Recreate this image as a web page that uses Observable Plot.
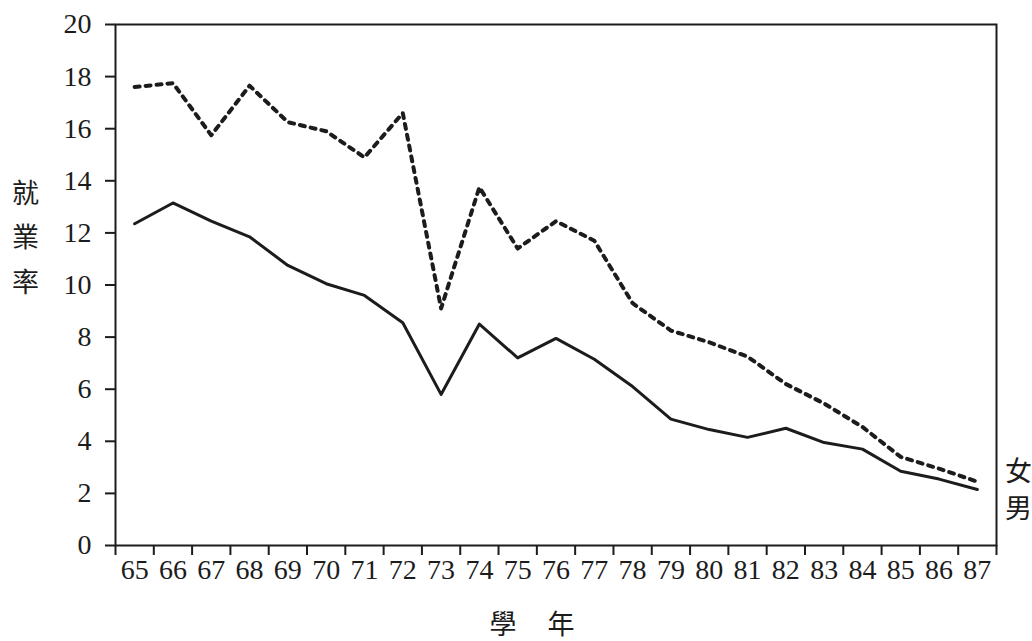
<!DOCTYPE html>
<html>
<head>
<meta charset="utf-8">
<script src="https://cdn.jsdelivr.net/npm/d3@7"></script>
<script src="https://cdn.jsdelivr.net/npm/@observablehq/plot@0.6"></script>
<style>
  html, body { margin: 0; padding: 0; background: #fff; }
</style>
</head>
<body>
<div id="chart"></div>
<script>
// 學年 (academic years, ROC calendar)
const years = [65, 66, 67, 68, 69, 70, 71, 72, 73, 74, 75, 76, 77, 78, 79, 80, 81, 82, 83, 84, 85, 86, 87];
// 女 (female) employment rate, dashed line
const female = [17.6, 17.75, 15.75, 17.65, 16.25, 15.9, 14.9, 16.6, 9.1, 13.75, 11.4, 12.45, 11.7, 9.3, 8.25, 7.8, 7.25, 6.2, 5.45, 4.55, 3.4, 2.95, 2.45];
// 男 (male) employment rate, solid line
const male = [12.35, 13.15, 12.45, 11.85, 10.75, 10.05, 9.6, 8.55, 5.8, 8.5, 7.2, 7.95, 7.15, 6.1, 4.85, 4.45, 4.15, 4.5, 3.95, 3.7, 2.85, 2.55, 2.15];
// y-axis tick labels
const yTicks = [0, 2, 4, 6, 8, 10, 12, 14, 16, 18, 20];
// band boundaries for x tick marks (labels sit between ticks)
const xTickBounds = [64.5, 65.5, 66.5, 67.5, 68.5, 69.5, 70.5, 71.5, 72.5, 73.5, 74.5, 75.5, 76.5, 77.5, 78.5, 79.5, 80.5, 81.5, 82.5, 83.5, 84.5, 85.5, 86.5, 87.5];
// text labels
const yTitle = ["就\n業\n率"];
const xTitle1 = ["學"];
const xTitle2 = ["年"];
const seriesLabels = ["女\n男"];

const femaleData = years.map((yr, i) => ({year: yr, value: female[i]}));
const maleData = years.map((yr, i) => ({year: yr, value: male[i]}));

const ink = "#1c1c1c";
const serif = "Liberation Serif";
const cjk = "Noto Sans CJK TC";

const chart = Plot.plot({
  width: 1032,
  height: 641,
  marginLeft: 115,
  marginRight: 36,
  marginTop: 24,
  marginBottom: 96,
  x: {domain: [64.5, 87.5]},
  y: {domain: [0, 20]},
  style: {background: "#fff", color: ink},
  marks: [
    Plot.frame({stroke: ink, strokeWidth: 2}),
    Plot.axisY({ticks: yTicks, tickSize: 10, tickPadding: 14, label: null, fontSize: 28, fontFamily: serif, strokeWidth: 2, fill: ink}),
    Plot.axisX({ticks: xTickBounds, tickSize: 10, tickFormat: () => "", label: null, strokeWidth: 2}),
    Plot.axisX({ticks: years, tickSize: 0, tickPadding: 14, label: null, fontSize: 28, fontFamily: serif, fill: ink}),
    Plot.line(femaleData, {x: "year", y: "value", stroke: ink, strokeWidth: 4, strokeDasharray: "5,6"}),
    Plot.line(maleData, {x: "year", y: "value", stroke: ink, strokeWidth: 3}),
    Plot.text(yTitle, {frameAnchor: "left", dx: -90, dy: -52, textAnchor: "middle", lineAnchor: "middle", lineHeight: 1.65, fontSize: 27, fontFamily: cjk, fill: ink}),
    Plot.text(xTitle1, {frameAnchor: "bottom", dx: -53, dy: 80, textAnchor: "middle", lineAnchor: "middle", fontSize: 27, fontFamily: cjk, fill: ink}),
    Plot.text(xTitle2, {frameAnchor: "bottom", dx: 5, dy: 80, textAnchor: "middle", lineAnchor: "middle", fontSize: 27, fontFamily: cjk, fill: ink}),
    Plot.text(seriesLabels, {frameAnchor: "right", dx: 22, dy: 203, textAnchor: "middle", lineAnchor: "middle", lineHeight: 1.35, fontSize: 27, fontFamily: cjk, fill: ink})
  ]
});
document.getElementById("chart").appendChild(chart);
// pin the serif face on the numeric tick labels
d3.select(chart).selectAll('g[aria-label$="tick label"] text')
  .style("font-family", "'Liberation Serif', 'DejaVu Serif', serif", "important")
  .style("font-size", "28px", "important");
</script>
</body>
</html>
